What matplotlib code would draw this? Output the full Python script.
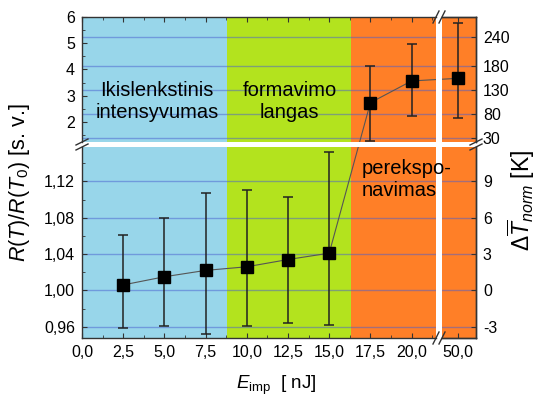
import numpy as np
import matplotlib
matplotlib.use("Agg")
import matplotlib.pyplot as plt
from matplotlib.lines import Line2D

plt.rcParams['font.family'] = ['Liberation Sans', 'DejaVu Sans']
plt.rcParams['mathtext.fontset'] = 'custom'
plt.rcParams['mathtext.rm'] = 'Liberation Sans'
plt.rcParams['mathtext.it'] = 'Liberation Sans:italic'
plt.rcParams['mathtext.bf'] = 'Liberation Sans:bold'

# ============================================================
# DATA
# ============================================================

e_low = [2.5, 5.0, 7.5, 10.0, 12.5, 15.0]
r_low = [1.006, 1.015, 1.022, 1.026, 1.034, 1.041]
r_low_min = [0.959, 0.961, 0.952, 0.961, 0.964, 0.962]
r_low_max = [1.061, 1.080, 1.107, 1.111, 1.103, 1.152]

e_high = [17.5, 20.0, 50.0]
r_high = [2.73, 3.56, 3.66]
r_high_min = [1.25, 2.22, 2.16]
r_high_max = [4.13, 4.97, 5.76]

x_ticks_left = [0.0, 2.5, 5.0, 7.5, 10.0, 12.5, 15.0, 17.5, 20.0]
x_ticks_right = [50.0]
y_ticks_top = [2, 3, 4, 5, 6]
y_ticks_bottom = [0.96, 1.00, 1.04, 1.08, 1.12]
dt_ticks_top = [30, 80, 130, 180, 240]
dt_ticks_bottom = [-3, 0, 3, 6, 9]

region_edges = [0.0, 8.8, 16.3, 60.0]
region_colors = ['#98D6EA', '#B3E31E', '#FF7F27']

C_SPINE = '#333333'
C_GRID = '#4a5fd0'
FS_TICK = 11.5
FS_REGION = 14.5

# ============================================================
# LAYOUT (pixel boxes of the four broken-axis panels)
# ============================================================

W, H = 542, 396
fig = plt.figure(figsize=(W / 100, H / 100), dpi=100)


def box(l, r, t, b):
    return [l / W, 1 - b / H, (r - l) / W, (b - t) / H]


ax_tl = fig.add_axes(box(82, 436, 17, 142))
ax_tr = fig.add_axes(box(442, 476, 17, 142))
ax_bl = fig.add_axes(box(82, 436, 147, 338))
ax_br = fig.add_axes(box(442, 476, 147, 338))
ax_bl.set_zorder(1)  # its label may run over the gap

xlim_left = (0.0, 21.48)
xlim_right = (49.03, 51.09)
ylim_top = (1.23, 6.0)
ylim_bottom = (0.9475, 1.158)
dtlim_top = (21.7, 281.6)
dtlim_bottom = (-3.94, 11.85)

for ax in (ax_tl, ax_bl):
    ax.set_xlim(*xlim_left)
for ax in (ax_tr, ax_br):
    ax.set_xlim(*xlim_right)
for ax in (ax_tl, ax_tr):
    ax.set_ylim(*ylim_top)
for ax in (ax_bl, ax_br):
    ax.set_ylim(*ylim_bottom)

# twin axes on the right for Delta T
tw_top = ax_tr.twinx()
tw_top.set_ylim(*dtlim_top)
tw_bot = ax_br.twinx()
tw_bot.set_ylim(*dtlim_bottom)

# ============================================================
# BACKGROUND REGIONS + GRID
# ============================================================

for ax in (ax_tl, ax_tr, ax_bl, ax_br):
    for i, c in enumerate(region_colors):
        ax.axvspan(region_edges[i], region_edges[i + 1], color=c, lw=0, zorder=0)


def grid_from_twin(ax, tw, ticks):
    # horizontal lines at the right axis ticks, expressed in left axis units
    for v in ticks:
        y = ax.transData.inverted().transform(tw.transData.transform((0, v)))[1]
        ax.axhline(y, color=C_GRID, alpha=0.5, lw=1, zorder=1)


grid_from_twin(ax_tl, tw_top, dt_ticks_top)
grid_from_twin(ax_tr, tw_top, dt_ticks_top)
grid_from_twin(ax_bl, tw_bot, dt_ticks_bottom)
grid_from_twin(ax_br, tw_bot, dt_ticks_bottom)

# ============================================================
# DATA POINTS
# ============================================================

e_low_a = np.array(e_low)
r_low_a = np.array(r_low)
e_high_a = np.array(e_high)
r_high_a = np.array(r_high)

err_low = [r_low_a - np.array(r_low_min), np.array(r_low_max) - r_low_a]
err_high = [r_high_a - np.array(r_high_min), np.array(r_high_max) - r_high_a]

eb_kw = dict(fmt='s', color='black', ms=8.5, ecolor='#222222', elinewidth=1.1,
             capsize=3.5, capthick=1.1, zorder=4, clip_on=True)
for ax in (ax_bl, ax_br):
    ax.errorbar(e_low_a, r_low_a, yerr=err_low, **eb_kw)
for ax in (ax_tl, ax_tr):
    ax.errorbar(e_high_a, r_high_a, yerr=err_high, **eb_kw)


# connecting line, built in one common coordinate system (top-left data)
def to_tl(ax, x, y):
    pts = ax.transData.transform(np.column_stack([x, y]))
    return ax_tl.transData.inverted().transform(pts)


in_left = e_high_a <= xlim_left[1]
line_pts = np.vstack([
    to_tl(ax_bl, e_low_a, r_low_a),
    to_tl(ax_tl, e_high_a[in_left], r_high_a[in_left]),
    to_tl(ax_tr, e_high_a[~in_left], r_high_a[~in_left]),
])
for ax in (ax_tl, ax_tr, ax_bl, ax_br):
    ax.plot(line_pts[:, 0], line_pts[:, 1], color='#555555', lw=0.8,
            transform=ax_tl.transData, zorder=3)

# ============================================================
# TICKS + SPINES
# ============================================================

fmt_comma = lambda v, d: f"{v:.{d}f}".replace('.', ',')

tick_kw = dict(direction='in', colors=C_SPINE, labelcolor='black',
               labelsize=FS_TICK, pad=5)

# top-left
ax_tl.set_xticks(x_ticks_left)
ax_tl.set_xticks(np.array(x_ticks_left) + 1.25, minor=True)
ax_tl.set_yticks(y_ticks_top)
ax_tl.set_yticklabels([str(v) for v in y_ticks_top])
ax_tl.set_yticks(np.arange(1.5, 6.0, 1.0), minor=True)
ax_tl.tick_params(which='both', top=True, bottom=False, left=True, right=False,
                  labeltop=False, labelbottom=False, **tick_kw)

# bottom-left
ax_bl.set_xticks(x_ticks_left)
ax_bl.set_xticklabels([fmt_comma(v, 1) for v in x_ticks_left])
ax_bl.set_xticks(np.array(x_ticks_left) + 1.25, minor=True)
ax_bl.set_yticks(y_ticks_bottom)
ax_bl.set_yticklabels([fmt_comma(v, 2) for v in y_ticks_bottom])
ax_bl.set_yticks(np.array(y_ticks_bottom) + 0.02, minor=True)
ax_bl.tick_params(which='both', top=False, bottom=True, left=True, right=False, **tick_kw)

# right panels
for ax in (ax_tr, ax_br):
    ax.set_yticks([])
    ax.set_xticks(x_ticks_right)
ax_tr.tick_params(which='both', top=True, bottom=False, left=False, right=False,
                  labeltop=False, labelbottom=False, **tick_kw)
ax_br.set_xticklabels([fmt_comma(v, 1) for v in x_ticks_right])
ax_br.tick_params(which='both', top=False, bottom=True, left=False, right=False, **tick_kw)

tw_top.set_yticks(dt_ticks_top)
tw_top.set_yticklabels([str(v) for v in dt_ticks_top])
tw_bot.set_yticks(dt_ticks_bottom)
tw_bot.set_yticklabels([str(v) for v in dt_ticks_bottom])
for tw in (tw_top, tw_bot):
    tw.tick_params(which='both', left=False, right=True, **tick_kw)

for ax in (ax_tl, ax_tr, ax_bl, ax_br, tw_top, tw_bot):
    for s in ax.spines.values():
        s.set_color(C_SPINE)
        s.set_linewidth(1)

ax_tl.spines[['bottom', 'right']].set_visible(False)
ax_bl.spines[['top', 'right']].set_visible(False)
for ax in (ax_tr, tw_top):
    ax.spines[['bottom', 'left']].set_visible(False)
for ax in (ax_br, tw_bot):
    ax.spines[['top', 'left']].set_visible(False)


# break marks "//"
def slash(xc, yc, dx=6, dy=4):
    fig.add_artist(Line2D([(xc - dx) / W, (xc + dx) / W],
                          [1 - (yc + dy) / H, 1 - (yc - dy) / H],
                          color=C_SPINE, lw=1))


for y in (142, 147):
    slash(82, y, dx=6, dy=3)
    slash(476, y, dx=6, dy=3)
for x in (436, 442):
    slash(x, 17, dx=3, dy=6)
    slash(x, 338, dx=3, dy=6)

# ============================================================
# TEXTS
# ============================================================

ax_tl.text(4.55, 2.79, "Ikislenkstinis\nintensyvumas", ha='center', va='center',
           fontsize=FS_REGION, zorder=5)
ax_tl.text(12.6, 2.79, "formavimo\nlangas", ha='center', va='center',
           fontsize=FS_REGION, zorder=5)
ax_bl.text(17.0, 1.122, "perekspo-\nnavimas", ha='left', va='center',
           fontsize=FS_REGION, zorder=5, clip_on=False)

fig.text(20 / W, 1 - 183 / H, r"$R(T)/R(T_0)$ [s. v.]", rotation=90,
         ha='center', va='center', fontsize=15.5)
fig.text(521 / W, 1 - 200 / H, r"$\Delta\overline{T}_{norm}$ [K]", rotation=90,
         ha='center', va='center', fontsize=16.5)
fig.text(276 / W, 1 - 385 / H, r"$E_{\mathrm{imp}}$  [ nJ]",
         ha='center', va='center', fontsize=13.5)

fig.savefig("out.png", dpi=100)
